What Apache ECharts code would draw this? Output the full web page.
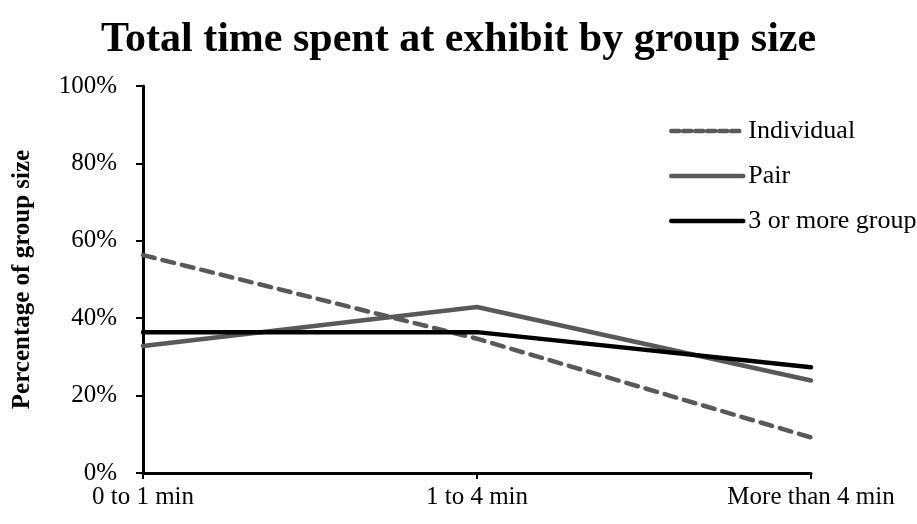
<!DOCTYPE html>
<html>
<head>
<meta charset="utf-8">
<script src="https://cdn.jsdelivr.net/npm/echarts@6/dist/echarts.min.js"></script>
<style>
  html, body { margin: 0; padding: 0; background: #fff; }
  #chart { width: 917px; height: 524px; }
</style>
</head>
<body>
<div id="chart"></div>
<script>
// Time bands shown on the horizontal axis
const categories = ['0 to 1 min', '1 to 4 min', 'More than 4 min'];
// Share of each group type (percent) per time band
const individual = [56.3, 34.7, 9.2];
const pair = [32.8, 42.9, 23.9];
const groupOfThree = [36.4, 36.4, 27.3];
const seriesNames = ['Individual', 'Pair', '3 or more group'];
const yTicks = [0, 20, 40, 60, 80, 100];

const serif = '"Liberation Serif", "Times New Roman", serif';
const chart = echarts.init(document.getElementById('chart'), null, { renderer: 'canvas' });

chart.setOption({
  backgroundColor: '#ffffff',
  animation: false,
  title: {
    text: 'Total time spent at exhibit by group size',
    left: 'center',
    top: 14,
    textStyle: { fontFamily: serif, fontSize: 42, fontWeight: 'bold', color: '#000' }
  },
  legend: {
    orient: 'vertical',
    left: 669,
    top: 118,
    padding: 0,
    itemWidth: 72,
    itemHeight: 14,
    itemGap: 19,
    data: [
      // shorter dashes for the key sample of the dashed series
      { name: seriesNames[0], lineStyle: { type: [8, 4] } },
      { name: seriesNames[1] },
      { name: seriesNames[2] }
    ],
    itemStyle: { opacity: 0 },
    lineStyle: { width: 4.5 },
    textStyle: { fontFamily: serif, fontSize: 26, color: '#000' }
  },
  grid: { left: 143, right: 106, top: 86, bottom: 51, containLabel: false },
  xAxis: {
    type: 'category',
    data: categories,
    boundaryGap: false,
    axisLine: { lineStyle: { color: '#000', width: 3 } },
    axisTick: { show: true, length: 6, lineStyle: { color: '#000', width: 2 } },
    axisLabel: { fontFamily: serif, fontSize: 25, color: '#000', margin: 12 },
    splitLine: { show: false }
  },
  yAxis: {
    type: 'value',
    min: yTicks[0],
    max: yTicks[yTicks.length - 1],
    interval: 20,
    name: 'Percentage of group size',
    nameLocation: 'middle',
    nameGap: 108,
    nameRotate: 90,
    nameTextStyle: { fontFamily: serif, fontSize: 25, fontWeight: 'bold', color: '#000' },
    axisLine: { show: true, lineStyle: { color: '#000', width: 3 } },
    axisTick: { show: true, length: 7, lineStyle: { color: '#000', width: 2 } },
    axisLabel: { fontFamily: serif, fontSize: 25, color: '#000', margin: 26, formatter: '{value}%' },
    splitLine: { show: false }
  },
  series: [
    {
      name: seriesNames[0], type: 'line', data: individual, symbol: 'none',
      lineStyle: { color: '#595959', width: 4.5, type: [12, 8], cap: 'round' },
      itemStyle: { color: '#595959' }
    },
    {
      name: seriesNames[1], type: 'line', data: pair, symbol: 'none',
      lineStyle: { color: '#595959', width: 4.5, cap: 'round' },
      itemStyle: { color: '#595959' }
    },
    {
      name: seriesNames[2], type: 'line', data: groupOfThree, symbol: 'none',
      lineStyle: { color: '#000000', width: 4.5, cap: 'round' },
      itemStyle: { color: '#000000' }
    }
  ]
});
</script>
</body>
</html>
